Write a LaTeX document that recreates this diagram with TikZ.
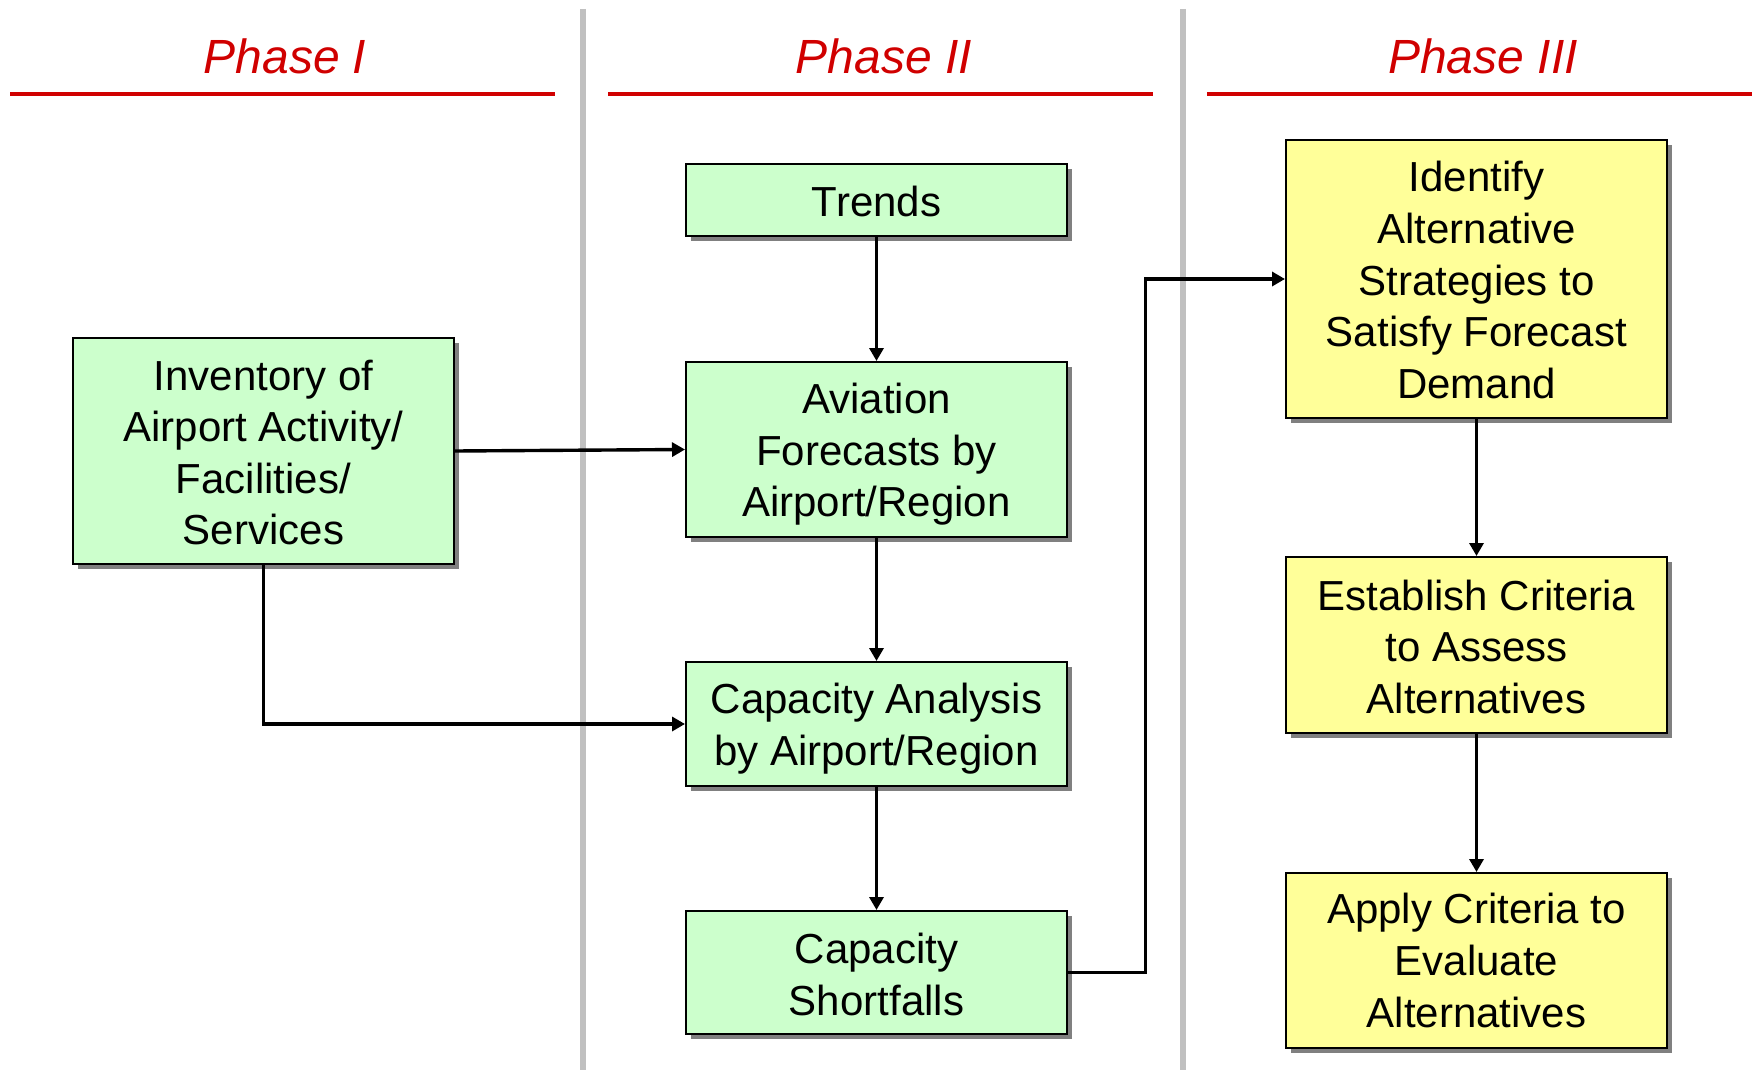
\documentclass[tikz,border=0pt]{standalone}
\usepackage{fontspec}
\setmainfont{Liberation Sans}
\usetikzlibrary{shadows,arrows.meta}
\definecolor{boxgreen}{HTML}{CCFFCC}
\definecolor{boxyellow}{HTML}{FFFF99}
\definecolor{phasered}{HTML}{D00000}
\definecolor{sepgray}{HTML}{C0C0C0}
\definecolor{shadowgray}{HTML}{808080}
\begin{document}
\begin{tikzpicture}[x=0.5pt,y=-0.5pt,
  box/.style={draw=black, line width=1pt, minimum width=190.5pt, inner sep=0pt,
    drop shadow={shadow xshift=2.7pt, shadow yshift=-2.7pt, fill=shadowgray, opacity=1}},
  gbox/.style={box, fill=boxgreen},
  ybox/.style={box, fill=boxyellow},
  boxtext/.style={align=center, inner sep=0pt, font=\fontsize{21}{25.8}\selectfont},
  phasetitle/.style={anchor=base, text=phasered, font=\fontsize{24}{28}\selectfont\itshape},
  redrule/.style={draw=phasered, line width=2pt},
  seprule/.style={draw=sepgray, line width=2.6pt},
  conn/.style={draw=black, line width=1.7pt, -{Triangle[length=6.5pt,width=7pt]}}
]
\useasboundingbox (0,0) rectangle (1761,1070);

% separators
\coordinate (s1t) at (583,9); \coordinate (s1b) at (583,1070);
\coordinate (s2t) at (1183,9); \coordinate (s2b) at (1183,1070);
\draw[seprule] (s1t) -- (s1b);
\draw[seprule] (s2t) -- (s2b);

% red rules
\coordinate (r1a) at (10,94.5); \coordinate (r1b) at (555,94.5);
\coordinate (r2a) at (608,94.5); \coordinate (r2b) at (1153,94.5);
\coordinate (r3a) at (1207,94.5); \coordinate (r3b) at (1752,94.5);
\draw[redrule] (r1a) -- (r1b);
\draw[redrule] (r2a) -- (r2b);
\draw[redrule] (r3a) -- (r3b);

% titles
\node[phasetitle] (t1) at (285,74) {Phase I};
\node[phasetitle] (t2) at (884,74) {Phase II};
\node[phasetitle] (t3) at (1483,74) {Phase III};

% boxes
\node[gbox, minimum height=113pt] (inv) at (263.5,451) {};
\node[gbox, minimum height=36pt] (trend) at (876.5,200) {};
\node[gbox, minimum height=87.5pt] (avi) at (876.5,449.5) {};
\node[gbox, minimum height=62pt] (cap) at (876.5,724) {};
\node[gbox, minimum height=61.5pt] (short) at (876.5,972.5) {};
\node[ybox, minimum height=139pt] (ident) at (1476.5,279) {};
\node[ybox, minimum height=88pt] (estab) at (1476.5,645) {};
\node[ybox, minimum height=87.5pt] (apply) at (1476.5,960.5) {};

% box texts
\node[boxtext] (invt) at ([yshift=-0.8pt]inv.center) {Inventory of\\Airport Activity/\\Facilities/\\Services};
\node[boxtext] (trendt) at ([yshift=-0.5pt]trend.center) {Trends};
\node[boxtext] (avit) at ([yshift=-2.4pt]avi.center) {Aviation\\Forecasts by\\Airport/Region};
\node[boxtext] (capt) at ([yshift=-2.2pt]cap.center) {Capacity Analysis\\by Airport/Region};
\node[boxtext] (shortt) at ([yshift=-1.1pt]short.center) {Capacity\\Shortfalls};
\node[boxtext] (identt) at ([yshift=-0.5pt]ident.center) {Identify\\Alternative\\Strategies to\\Satisfy Forecast\\Demand};
\node[boxtext] (estabt) at ([yshift=-0.8pt]estab.center) {Establish Criteria\\to Assess\\Alternatives};
\node[boxtext] (applyt) at (apply.center) {Apply Criteria to\\Evaluate\\Alternatives};

% connectors
\draw[conn] (trend) -- (avi);
\draw[conn] (inv.east) -- (avi.west);
\draw[conn] (inv.south) |- (cap.west);
\draw[conn] (avi) -- (cap);
\draw[conn] (cap) -- (short);
\coordinate (bend) at (1145.5,972.5);
\draw[conn] (short.east) -- (bend) |- (ident.west);
\draw[conn] (ident) -- (estab);
\draw[conn] (estab) -- (apply);
\end{tikzpicture}
\end{document}
